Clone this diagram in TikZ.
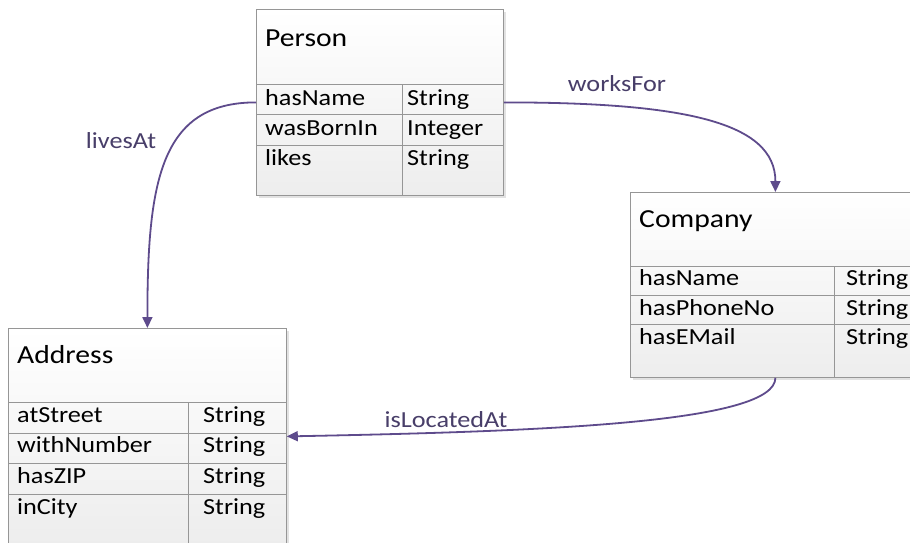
\documentclass[tikz,border=0pt]{standalone}
\usepackage{fontspec}
\setmainfont{Carlito}
\usetikzlibrary{arrows.meta,shadows}
\definecolor{edge}{RGB}{94,75,140}
\definecolor{lbl}{RGB}{72,62,105}
\definecolor{grid}{RGB}{150,150,150}
\newcommand{\hx}[1]{\scalebox{1.14}[1]{#1}}
\tikzset{
 box/.style={draw=grid, line width=0.8pt, rectangle, anchor=north west, inner sep=0pt,
   top color=white, bottom color=gray!14,
   drop shadow={shadow xshift=2.5pt,shadow yshift=-2.5pt,fill=black!22}},
 sep/.style={draw=grid, line width=0.8pt},
 title/.style={anchor=base west, inner sep=0pt, font=\fontsize{26}{30}\selectfont},
 cell/.style={anchor=base west, inner sep=0pt, font=\fontsize{23}{27}\selectfont},
 rel/.style={draw=edge, line width=1.8pt, -{Triangle[length=11pt,width=10pt]}},
 rlabel/.style={anchor=base, text=lbl, font=\fontsize{23}{27}\selectfont, inner sep=0pt},
}
\begin{document}
\begin{tikzpicture}[x=1pt,y=-1pt]
\useasboundingbox (0,0) rectangle (910,543);
\clip (0,0) rectangle (910,543);
\fill[white] (0,0) rectangle (910,543);

% Person
\node[box, minimum width=247pt, minimum height=186pt] (person) at (256,9) {};
\draw[sep] (256,84) -- (503,84);
\draw[sep] (256,114) -- (503,114);
\draw[sep] (256,145) -- (503,145);
\draw[sep] (402,84) -- (402,195);
\node[title] (pt) at (265,47) {\hx{Person}};
\node[cell] (p1) at (265,105) {\hx{hasName}};
\node[cell] (p1t) at (407,105) {\hx{String}};
\node[cell] (p2) at (265,135) {\hx{wasBornIn}};
\node[cell] (p2t) at (407,135) {\hx{Integer}};
\node[cell] (p3) at (265,165) {\hx{likes}};
\node[cell] (p3t) at (407,165) {\hx{String}};

% Company
\node[box, minimum width=290pt, minimum height=185pt] (company) at (630,192) {};
\draw[sep] (630,266) -- (920,266);
\draw[sep] (630,295) -- (920,295);
\draw[sep] (630,324) -- (920,324);
\draw[sep] (834,266) -- (834,377);
\node[title] (ct) at (639,227) {\hx{Company}};
\node[cell] (c1) at (639,285) {\hx{hasName}};
\node[cell] (c1t) at (846,285) {\hx{String}};
\node[cell] (c2) at (639,315) {\hx{hasPhoneNo}};
\node[cell] (c2t) at (846,315) {\hx{String}};
\node[cell] (c3) at (639,344) {\hx{hasEMail}};
\node[cell] (c3t) at (846,344) {\hx{String}};

% Address
\node[box, minimum width=278pt, minimum height=216pt] (address) at (8,328) {};
\draw[sep] (8,402) -- (286,402);
\draw[sep] (8,433) -- (286,433);
\draw[sep] (8,463) -- (286,463);
\draw[sep] (8,494) -- (286,494);
\draw[sep] (188,402) -- (188,544);
\node[title] (at) at (17,363) {\hx{Address}};
\node[cell] (a1) at (17,422) {\hx{atStreet}};
\node[cell] (a1t) at (203,422) {\hx{String}};
\node[cell] (a2) at (17,452) {\hx{withNumber}};
\node[cell] (a2t) at (203,452) {\hx{String}};
\node[cell] (a3) at (17,483) {\hx{hasZIP}};
\node[cell] (a3t) at (203,483) {\hx{String}};
\node[cell] (a4) at (17,514) {\hx{inCity}};
\node[cell] (a4t) at (203,514) {\hx{String}};

% relations
\draw[rel] (person.west) .. controls +(-96,0) and +(0,-146) .. (address.north);
\draw[rel] (person.east) .. controls +(180,0) and +(0,-70) .. (company.north);
\draw[rel] (company.south) .. controls +(0,45) and +(260,-5) .. (address.east);

\node[rlabel] (l1) at (121,148) {\hx{livesAt}};
\node[rlabel] (l2) at (617,92) {\hx{worksFor}};
\node[rlabel] (l3) at (446,427) {\hx{isLocatedAt}};
\end{tikzpicture}
\end{document}
